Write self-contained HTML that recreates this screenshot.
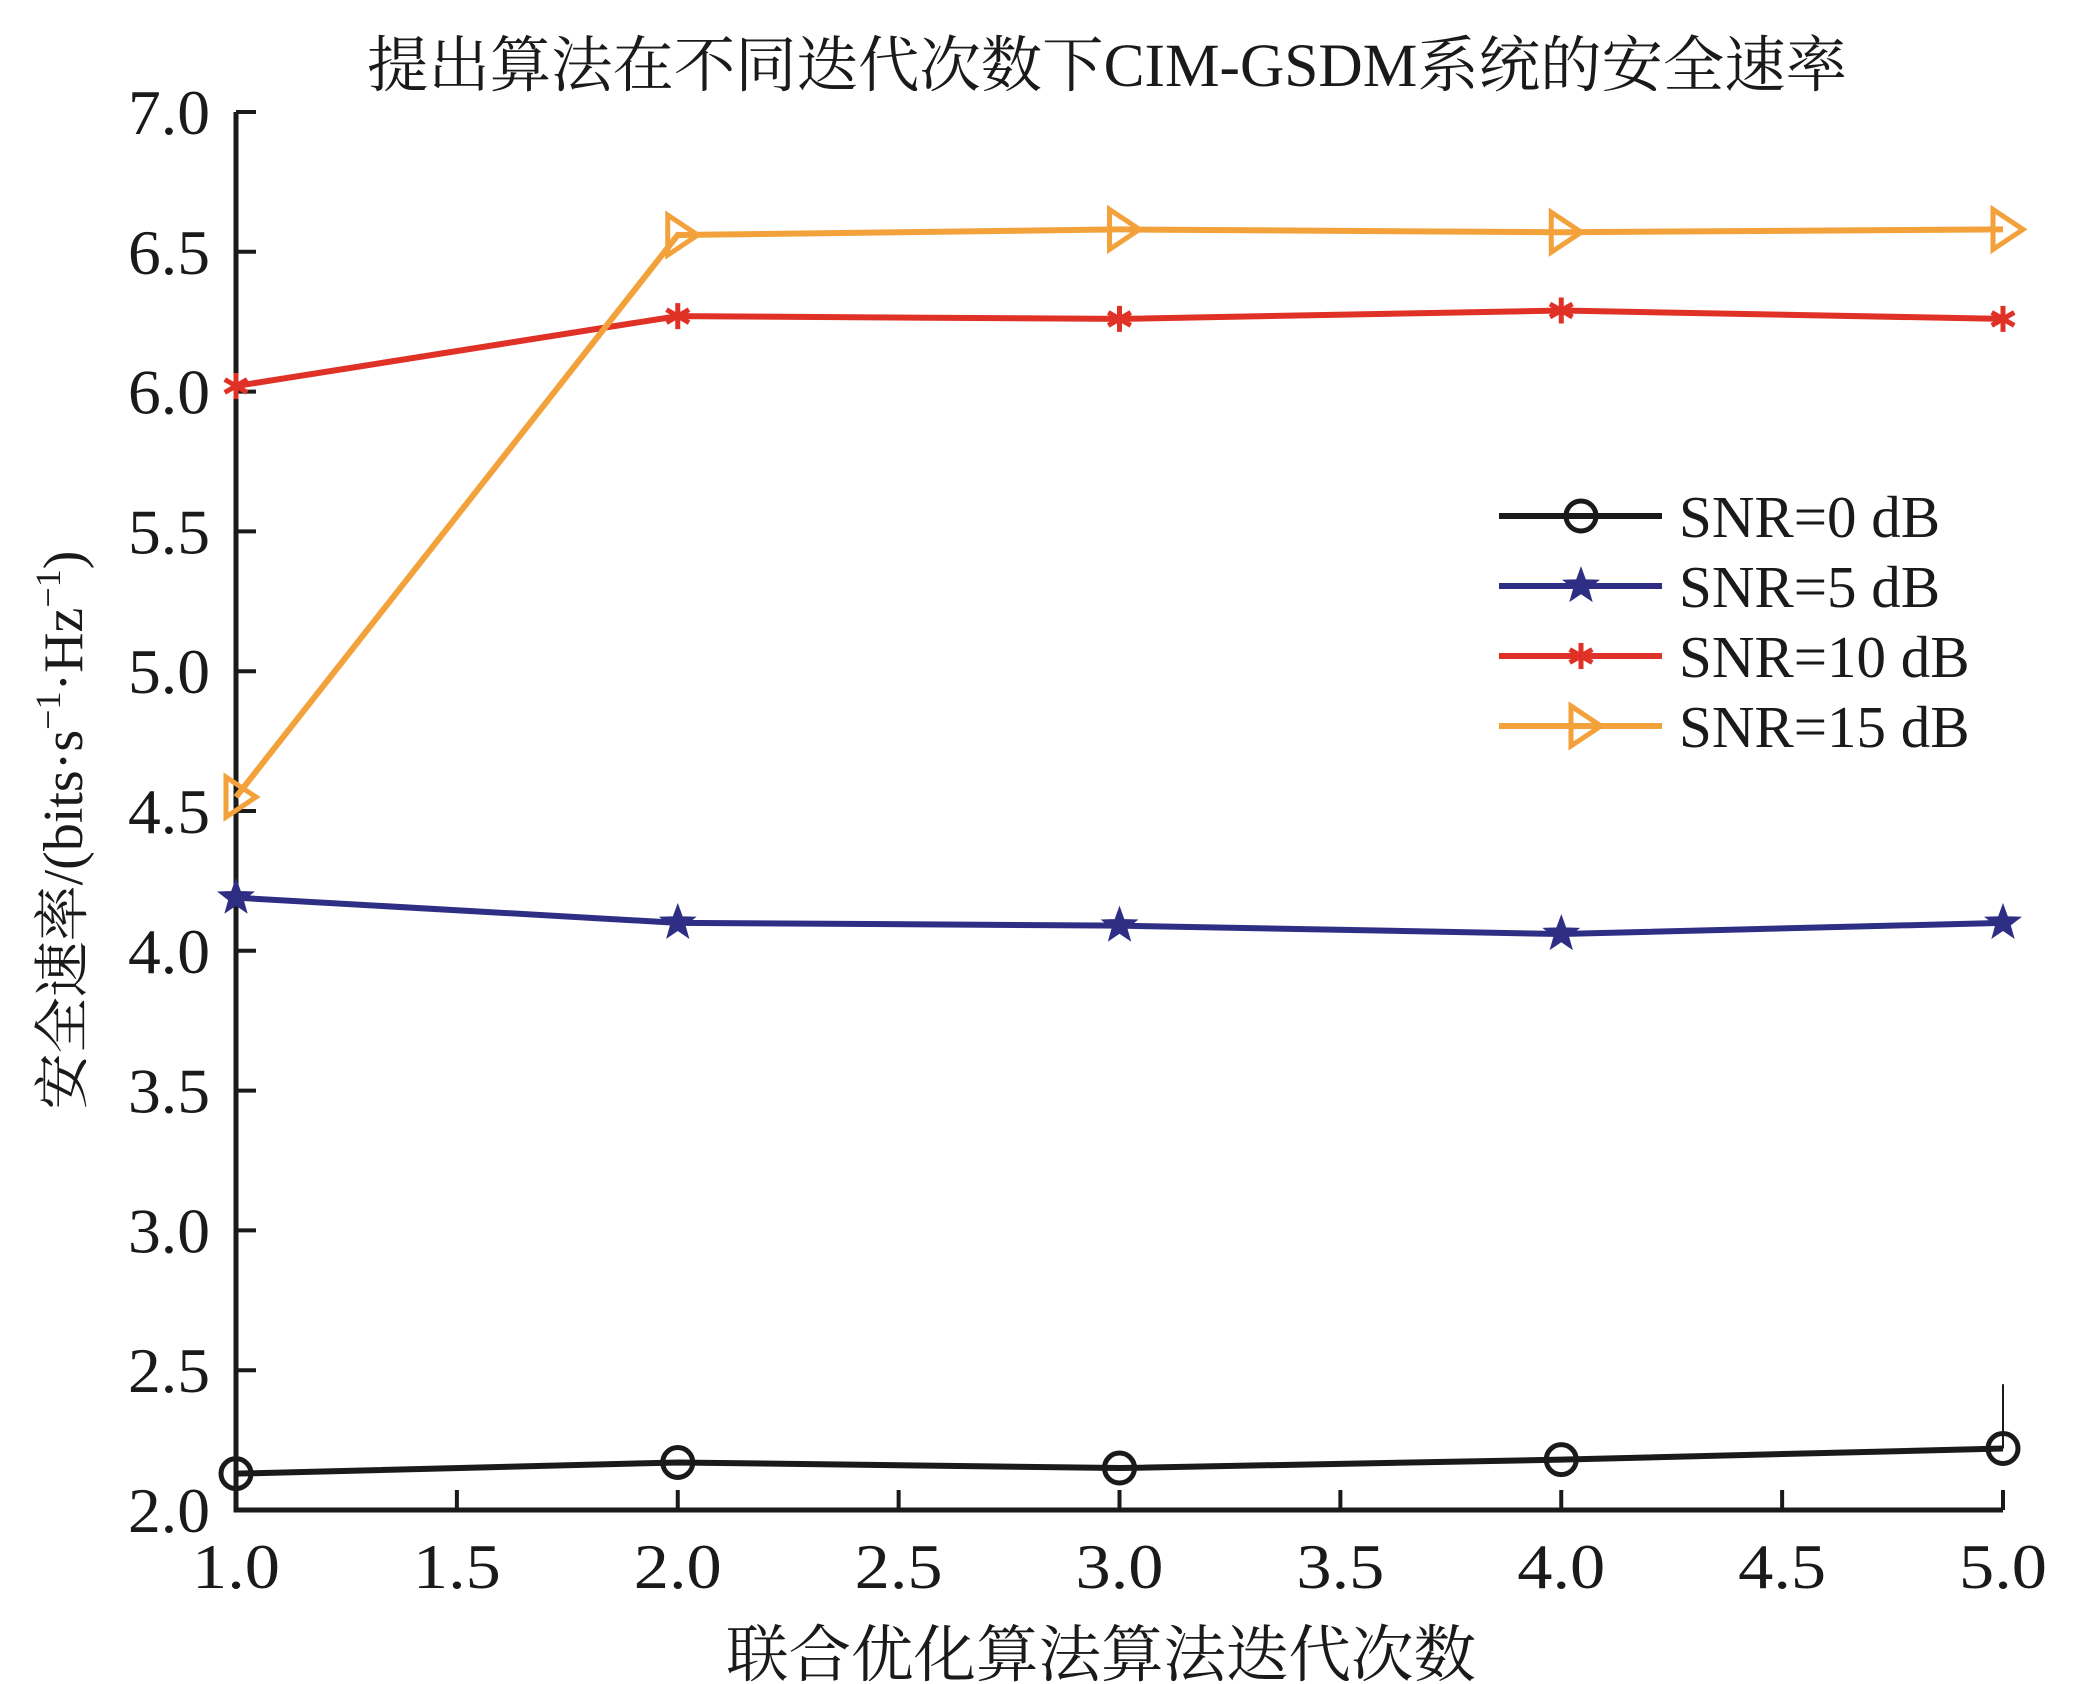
<!DOCTYPE html>
<html><head><meta charset="utf-8"><style>
html,body{margin:0;padding:0;background:#fff;}
svg{display:block;}
text{font-family:"Liberation Serif","Noto Serif CJK SC",serif;fill:#1a1a1a;}
</style></head><body>
<svg id="chart" width="2082" height="1684" viewBox="0 0 2082 1684" xmlns="http://www.w3.org/2000/svg">
<text x="1107" y="86" font-size="61" text-anchor="middle" textLength="1480" lengthAdjust="spacingAndGlyphs">提出算法在不同迭代次数下CIM-GSDM系统的安全速率</text>
<text x="1101" y="1676" font-size="62" text-anchor="middle" textLength="750" lengthAdjust="spacingAndGlyphs">联合优化算法算法迭代次数</text>
<text transform="translate(82,830) rotate(-90)" font-size="56" text-anchor="middle">安全速率/(bits·s<tspan font-size="36" dy="-22">−1</tspan><tspan dy="22">·Hz</tspan><tspan font-size="36" dy="-22">−1</tspan><tspan dy="22">)</tspan></text>
<g id="axes"></g>
<g id="series"></g>
<g id="legend"></g>
</svg>
<script>
const xValues = [1, 2, 3, 4, 5];
const xTicks = [1.0, 1.5, 2.0, 2.5, 3.0, 3.5, 4.0, 4.5, 5.0];
const yTicks = [2.0, 2.5, 3.0, 3.5, 4.0, 4.5, 5.0, 5.5, 6.0, 6.5, 7.0];
const snr0 = [2.13, 2.17, 2.15, 2.18, 2.22];
const snr5 = [4.19, 4.10, 4.09, 4.06, 4.10];
const snr10 = [6.02, 6.27, 6.26, 6.29, 6.26];
const snr15 = [4.55, 6.56, 6.58, 6.57, 6.58];
const seriesNames = ["SNR=0 dB", "SNR=5 dB", "SNR=10 dB", "SNR=15 dB"];

const NS = "http://www.w3.org/2000/svg";
const X0 = 236, X1 = 2003, Y0 = 1510, Y1 = 112;
const xs = v => X0 + (v - 1) / 4 * (X1 - X0);
const ys = v => Y0 - (v - 2) / 5 * (Y0 - Y1);
function mk(tag, attrs, parent) {
  const e = document.createElementNS(NS, tag);
  for (const k in attrs) e.setAttribute(k, attrs[k]);
  parent.appendChild(e);
  return e;
}
const axes = document.getElementById('axes');
const ax = mk('path', {d: `M${X0},${Y1} V${Y0} H${X1}`, fill: 'none', stroke: '#1a1a1a', 'stroke-width': 5}, axes);


xTicks.forEach(t => {
  const x = xs(t);
  const l = mk('line', {x1: x, x2: x, y1: Y0, y2: Y0 - 20, stroke: '#1a1a1a', 'stroke-width': 4}, axes);
  
  
  const tx = mk('text', {x: x, y: Y0 + 78, 'font-size': 64, 'text-anchor': 'middle', textLength: 88, lengthAdjust: 'spacingAndGlyphs'}, axes);
  
  
  tx.textContent = t.toFixed(1);
});
yTicks.forEach(t => {
  const y = ys(t);
  const l = mk('line', {x1: X0, x2: X0 + 20, y1: y, y2: y, stroke: '#1a1a1a', 'stroke-width': 4}, axes);
  
  
  const tx = mk('text', {x: 210, y: y + 22, 'font-size': 64, 'text-anchor': 'end', textLength: 82, lengthAdjust: 'spacingAndGlyphs'}, axes);
  
  
  tx.textContent = t.toFixed(1);
});

const colors = ['#1a1a1a', '#2e2f84', '#e03127', '#f3a13a'];
const data = [snr0, snr5, snr10, snr15];
function marker(kind, x, y, c, parent) {
  let e;
  if (kind === 0) e = mk('circle', {cx: x, cy: y, r: 15, fill: 'none', stroke: c, 'stroke-width': 5}, parent);
  else if (kind === 1) {
    let p = [];
    for (let i = 0; i < 10; i++) { const r = i % 2 ? 7 : 17, a = -Math.PI / 2 + i * Math.PI / 5; p.push((x + r * Math.cos(a)).toFixed(1) + ',' + (y + r * Math.sin(a)).toFixed(1)); }
    e = mk('polygon', {points: p.join(' '), fill: c, stroke: c, 'stroke-width': 2}, parent);
  } else if (kind === 2) {
    let d = '';
    for (let i = 0; i < 3; i++) { const a = Math.PI / 2 + i * Math.PI / 3; d += `M${x - 13 * Math.cos(a)},${y - 13 * Math.sin(a)} L${x + 13 * Math.cos(a)},${y + 13 * Math.sin(a)} `; }
    e = mk('path', {d: d, stroke: c, 'stroke-width': 5, fill: 'none'}, parent);
  } else {
    e = mk('polygon', {points: `${x - 10},${y - 20} ${x + 20},${y} ${x - 10},${y + 20}`, fill: 'none', stroke: c, 'stroke-width': 5}, parent);
  }
  return e;
}
const sg = document.getElementById('series');
data.forEach((arr, si) => {
  const g = mk('g', {}, sg);
  
  
  const pl = mk('polyline', {points: arr.map((v, i) => xs(xValues[i]) + ',' + ys(v)).join(' '), fill: 'none', stroke: colors[si], 'stroke-width': 6}, g);
  
  
  arr.forEach((v, i) => {
    const m = marker(si, xs(xValues[i]), ys(v), colors[si], g);
    
    
  });
});
const eb = mk('line', {x1: xs(5), x2: xs(5), y1: ys(snr0[4]), y2: ys(snr0[4] + 0.23), stroke: '#1a1a1a', 'stroke-width': 2}, sg);



const lg = document.getElementById('legend');
seriesNames.forEach((n, i) => {
  const y = 516 + i * 70;
  const g = mk('g', {}, lg);
  
  
  mk('line', {x1: 1499, x2: 1662, y1: y, y2: y, stroke: colors[i], 'stroke-width': 6}, g);
  marker(i, 1581, y, colors[i], g);
  const t = mk('text', {x: 1679, y: y + 21, 'font-size': 59}, g);
  t.textContent = n;
});
</script>
</body></html>
